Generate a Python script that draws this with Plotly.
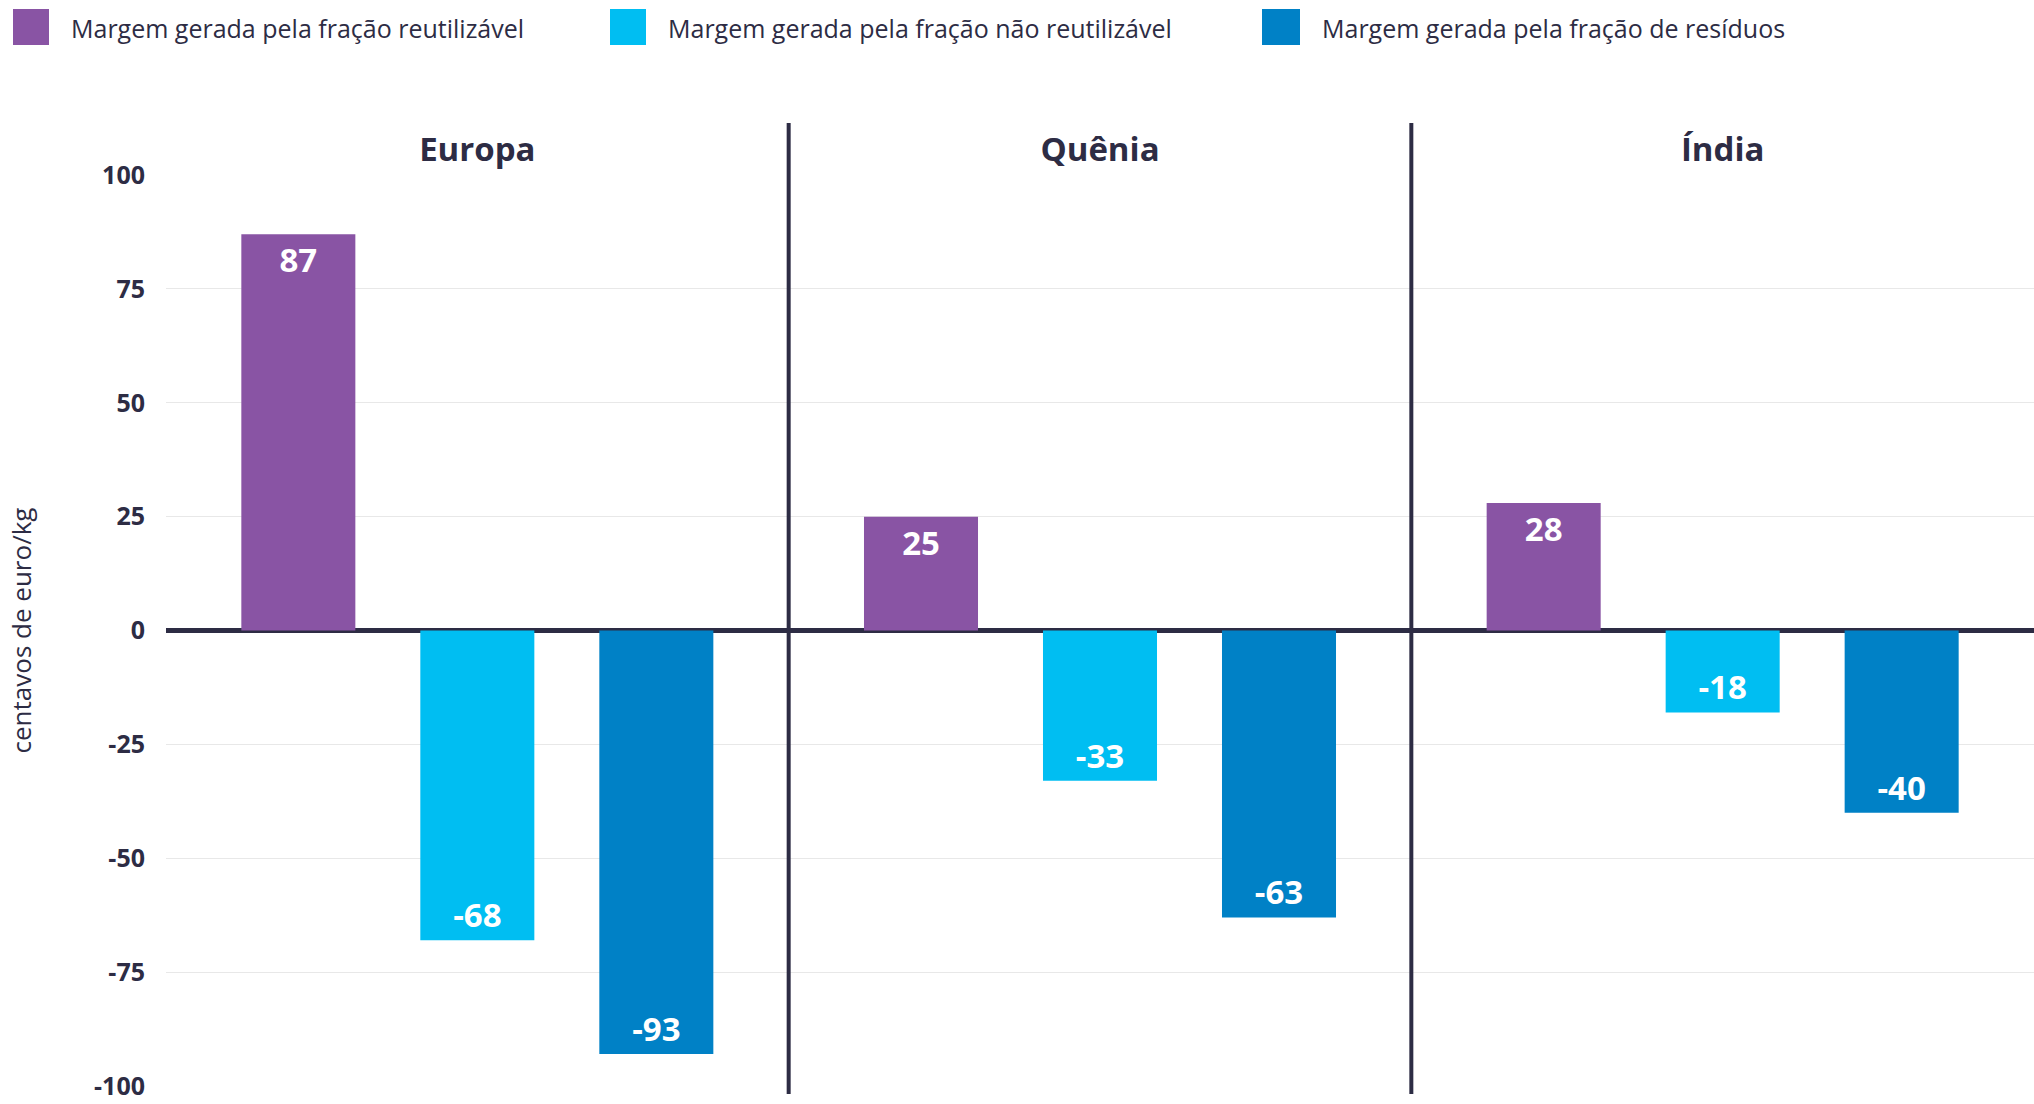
import plotly.graph_objects as go

# ---- data ----
regions = ["Europa", "Quênia", "Índia"]
series_names = [
    "Margem gerada pela fração reutilizável",
    "Margem gerada pela fração não reutilizável",
    "Margem gerada pela fração de resíduos",
]
reutilizavel = [87, 25, 28]
nao_reutilizavel = [-68, -33, -18]
residuos = [-93, -63, -40]
series_values = [reutilizavel, nao_reutilizavel, residuos]
series_colors = ["#8954A4", "#00BEF2", "#0081C6"]
y_ticks = [100, 75, 50, 25, 0, -25, -50, -75, -100]
y_title = "centavos de euro/kg"

DARK = "#2d2c44"
FONT = "Open Sans"
W, H = 2034, 1104
ML, MR, MT, MB = 166, 0, 175, 18

fig = go.Figure()
for name, vals, col in zip(series_names, series_values, series_colors):
    fig.add_trace(go.Bar(
        x=regions, y=vals, name=name, marker=dict(color=col, line=dict(width=0)),
        text=[str(v) for v in vals], textposition="inside", insidetextanchor="end",
        textfont=dict(family=FONT, size=33, color="white", weight=700),
        textangle=0, showlegend=False,
    ))

plot_w = W - ML - MR
plot_h = H - MT - MB

def px_x(p):
    return (p - ML) / plot_w

def px_y(p):
    return (H - MB - p) / plot_h

shapes = []
# vertical dividers between regions
for i in range(len(regions) - 1):
    shapes.append(dict(type="line", xref="x", yref="paper", x0=i + 0.5, x1=i + 0.5,
                       y0=px_y(1094), y1=px_y(123), line=dict(color=DARK, width=4),
                       layer="above"))

# custom legend (large squares)
legend_sq = [(13, 49), (610, 646), (1262, 1300)]
annotations = []
for (x0, x1), name, col in zip(legend_sq, series_names, series_colors):
    shapes.append(dict(type="rect", xref="paper", yref="paper",
                       x0=px_x(x0), x1=px_x(x1), y0=px_y(45), y1=px_y(9),
                       fillcolor=col, line=dict(width=0)))
    annotations.append(dict(xref="paper", yref="paper", x=px_x(x1 + 20), y=px_y(28),
                            xanchor="left", yanchor="middle", text=name, showarrow=False,
                            font=dict(family=FONT, size=25, color=DARK)))

fig.update_layout(
    width=W, height=H,
    margin=dict(l=ML, r=MR, t=MT, b=MB, autoexpand=False),
    paper_bgcolor="white", plot_bgcolor="white",
    barmode="group", bargap=0.1376, bargroupgap=0.363,
    shapes=shapes, annotations=annotations,
    xaxis=dict(side="top", range=[-0.5, 2.5], showgrid=False, zeroline=False,
               showline=False, ticks="", ticklabelstandoff=6,
               tickfont=dict(family=FONT, size=33, color=DARK, weight=700)),
    yaxis=dict(range=[-100, 100], tickvals=y_ticks, ticktext=[str(t) for t in y_ticks],
               showgrid=True, gridcolor="#e8e8e8", gridwidth=1,
               zeroline=True, zerolinecolor=DARK, zerolinewidth=5,
               showline=False, ticks="", ticklabelstandoff=20,
               ticklabeloverflow="allow",
               tickfont=dict(family=FONT, size=25, color=DARK, weight=700),
               title=dict(text=y_title, standoff=54,
                          font=dict(family=FONT, size=26, color=DARK, weight=500))),
    showlegend=False,
)

fig.write_html("out.html")
